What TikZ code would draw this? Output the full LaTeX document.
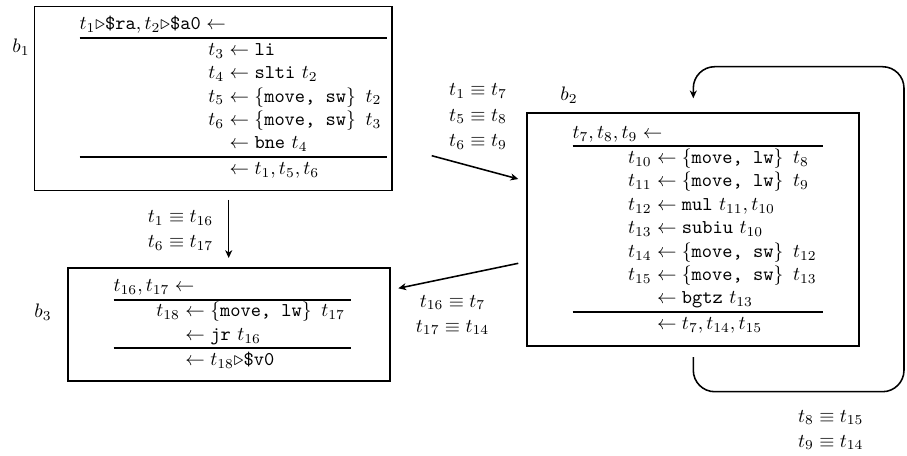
\documentclass[tikz,border=0pt]{standalone}
\usetikzlibrary{arrows.meta,fit}
\setlength{\arrayrulewidth}{1pt}
\newcommand{\tri}{{\triangleright}}
\newcommand{\ld}{{}\leftarrow}
\newcommand{\bsp}{\ \,}

\begin{document}
\begin{tikzpicture}[x=0.51282pt, y=-0.51282pt,
  blockbox/.style={draw, line width=1pt, inner sep=0pt},
  code/.style={anchor=north west, inner sep=0pt},
  blocklabel/.style={inner sep=0pt},
  eqlabel/.style={align=center, inner sep=0pt},
  edge/.style={line width=0.8pt, -{Stealth[length=4pt,width=3.6pt,inset=1.2pt]}}]
\useasboundingbox (0,0) rectangle (907,456);

% ---- block b1 ----
\node[blockbox, fit={(34.5,6.5) (392,190.5)}] (b1) {};
\node[code] (b1code) at (79.3,13.1) {$\begin{array}{@{\hspace{66pt}}r@{}l@{\hspace{3pt}}}
  \multicolumn{2}{@{}l}{t_1\tri\texttt{\$ra}, t_2\tri\texttt{\$a0} \leftarrow}\\ \hline
  t_3 & \ld \texttt{li}\\
  t_4 & \ld \texttt{slti}\ t_2\\
  t_5 & \ld \{\texttt{move, sw}\}\bsp t_2\\
  t_6 & \ld \{\texttt{move, sw}\}\bsp t_3\\
      & \ld \texttt{bne}\ t_4\\ \hline
      & \ld t_1, t_5, t_6
\end{array}$};
\node[blocklabel] (b1lab) at (21,47) {$b_1$};

% ---- block b2 ----
\node[blockbox, fit={(526.7,113.3) (859.3,345.7)}] (b2) {};
\node[code] (b2code) at (572.3,121.4) {$\begin{array}{@{\hspace{28.4pt}}r@{}l@{\hspace{3pt}}}
  \multicolumn{2}{@{}l}{t_7, t_8, t_9 \leftarrow}\\ \hline
  t_{10} & \ld \{\texttt{move, lw}\}\bsp t_8\\
  t_{11} & \ld \{\texttt{move, lw}\}\bsp t_9\\
  t_{12} & \ld \texttt{mul}\ t_{11}, t_{10}\\
  t_{13} & \ld \texttt{subiu}\ t_{10}\\
  t_{14} & \ld \{\texttt{move, sw}\}\bsp t_{12}\\
  t_{15} & \ld \{\texttt{move, sw}\}\bsp t_{13}\\
         & \ld \texttt{bgtz}\ t_{13}\\ \hline
         & \ld t_7, t_{14}, t_{15}
\end{array}$};
\node[blocklabel] (b2lab) at (569,95) {$b_2$};

% ---- block b3 ----
\node[blockbox, fit={(68.3,267.7) (390,381)}] (b3) {};
\node[code] (b3code) at (113.3,274.8) {$\begin{array}{@{\hspace{21.9pt}}r@{}l@{\hspace{3pt}}}
  \multicolumn{2}{@{}l}{t_{16}, t_{17} \leftarrow}\\ \hline
  t_{18} & \ld \{\texttt{move, lw}\}\bsp t_{17}\\
         & \ld \texttt{jr}\ t_{16}\\ \hline
         & \ld t_{18}\tri\texttt{\$v0}
\end{array}$};
\node[blocklabel] (b3lab) at (43,312) {$b_3$};

% ---- control-flow edges ----
\coordinate (e12s) at (431.7,155.7);
\coordinate (e12t) at (518.3,179);
\draw[edge] (e12s) -- (e12t);
\node[eqlabel] (l12) at (478,116.5) {$t_1 \equiv t_7$\\[1.2pt] $t_5 \equiv t_8$\\[1.2pt] $t_6 \equiv t_9$};

\coordinate (e13s) at (228.7,200);
\coordinate (e13t) at (228.7,258);
\draw[edge] (e13s) -- (e13t);
\node[eqlabel] (l13) at (180.5,230.5) {$t_1 \equiv t_{16}$\\[0.8pt] $t_6 \equiv t_{17}$};

\coordinate (e23s) at (518.3,263.3);
\coordinate (e23t) at (398.3,288.3);
\draw[edge] (e23s) -- (e23t);
\node[eqlabel] (l23) at (452.5,315) {$t_{16} \equiv t_7$\\[0.8pt] $t_{17} \equiv t_{14}$};

% ---- loop edge b2 -> b2 ----
\coordinate (e22s) at (693.3,357);
\coordinate (e22t) at (693.3,98.3);
\draw[edge, rounded corners=11pt] (e22s) -- (693.3,391.7) -- (904,391.7)
  -- (904,66.7) -- (693.3,66.7) -- (e22t);
\node[eqlabel] (l22) at (830.8,430) {$t_8 \equiv t_{15}$\\[0.8pt] $t_9 \equiv t_{14}$};
\end{tikzpicture}
\end{document}
